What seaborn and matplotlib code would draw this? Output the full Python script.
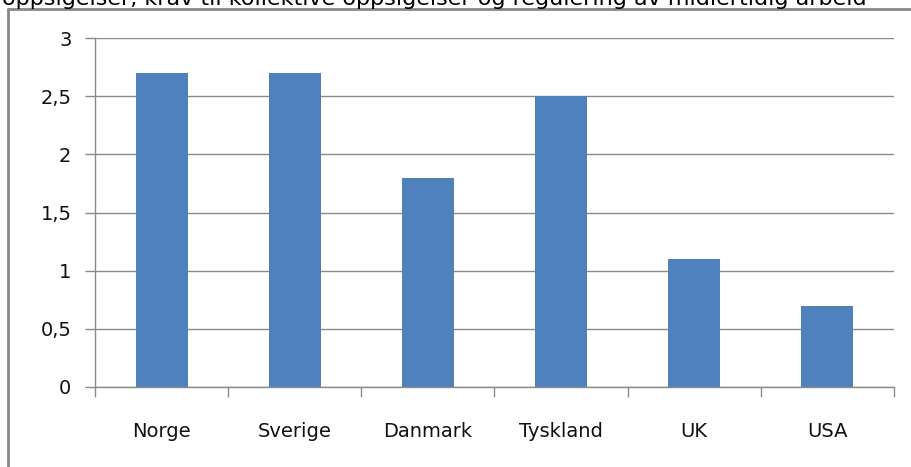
import matplotlib
matplotlib.use('Agg')
import matplotlib.pyplot as plt
from matplotlib.lines import Line2D
from matplotlib.ticker import FuncFormatter, FixedLocator
import seaborn as sns
import pandas as pd

# data
land = ['Norge', 'Sverige', 'Danmark', 'Tyskland', 'UK', 'USA']
verdi = [2.7, 2.7, 1.8, 2.5, 1.1, 0.7]
y_ticks = [0, 0.5, 1, 1.5, 2, 2.5, 3]
overskrift = 'oppsigelser, krav til kollektive oppsigelser og regulering av midlertidig arbeid'

sns.set_theme(style='white')
plt.rcParams['font.family'] = ['DejaVu Sans']

df = pd.DataFrame({'land': land, 'verdi': verdi})

fig = plt.figure(figsize=(9.12, 4.67), dpi=100)
ax = fig.add_axes([95 / 912, 1 - 387 / 467, (894 - 95) / 912, (387 - 38) / 467])

sns.barplot(data=df, x='land', y='verdi', color='#4F81BD', saturation=1,
            width=0.39, linewidth=0, ax=ax)

grid_c = '#8A8A8A'
ax.set_xlim(-0.5, len(land) - 0.5)
ax.set_ylim(0, 3)
ax.set_yticks(y_ticks)
ax.yaxis.set_major_formatter(FuncFormatter(lambda v, p: f'{v:g}'.replace('.', ',')))
ax.yaxis.grid(True, color=grid_c, linewidth=1)
ax.set_axisbelow(True)
ax.set_xlabel('')
ax.set_ylabel('')

for s in ['top', 'right']:
    ax.spines[s].set_visible(False)
for s in ['left', 'bottom']:
    ax.spines[s].set_color(grid_c)
    ax.spines[s].set_linewidth(1)

ax.tick_params(axis='y', which='major', left=True, length=7, width=1, color=grid_c,
               labelsize=14, labelcolor='#111111', pad=10)
ax.tick_params(axis='x', which='major', bottom=False, labelsize=14,
               labelcolor='#111111', pad=19)
ax.xaxis.set_minor_locator(FixedLocator([i - 0.5 for i in range(len(land) + 1)]))
ax.tick_params(axis='x', which='minor', bottom=True, length=7, width=1, color=grid_c)

# frame around chart
fc = '#888888'
fig.add_artist(Line2D([8 / 912, 8 / 912], [1 - 9 / 467, 0], transform=fig.transFigure,
                      color=fc, linewidth=2))
fig.add_artist(Line2D([8 / 912, 1], [1 - 9 / 467, 1 - 9 / 467], transform=fig.transFigure,
                      color=fc, linewidth=2))

fig.text(2 / 912, 1 - 5 / 467, overskrift, fontsize=16, color='black',
         ha='left', va='baseline')

fig.savefig('out.png', dpi=100)
